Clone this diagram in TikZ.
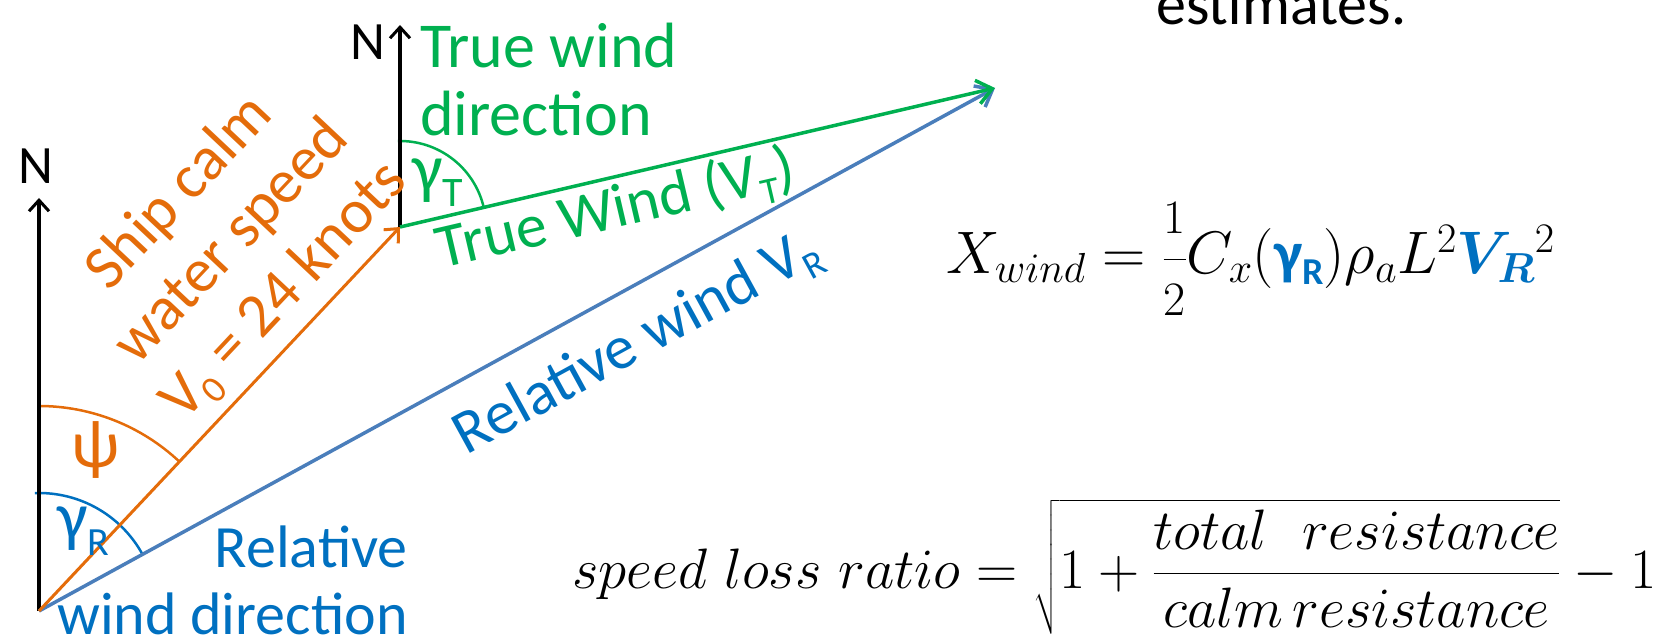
\RequirePackage{fix-cm}
\documentclass[tikz,border=0pt]{standalone}
\usepackage{amsmath}
\usepackage{bm}
\usepackage{fontspec}
\newfontfamily\carl{Carlito}
\usetikzlibrary{arrows.meta}
\definecolor{orng}{HTML}{E46C0A}
\definecolor{grn}{HTML}{00B050}
\definecolor{bline}{HTML}{4A7EBB}
\definecolor{btext}{HTML}{0070C0}
\newcommand{\lsub}[3][38]{\raisebox{-#2pt}{\fontsize{#1}{#1}\selectfont #3}}
\newcommand{\halfdigit}[1]{\mbox{\fontsize{48}{48}\selectfont #1}}
\begin{document}
\begin{tikzpicture}[x=1pt,y=1pt,
  lbl/.style={inner sep=0pt, font=\carl\fontsize{60}{72}\selectfont},
  veclbl/.style={inner sep=0pt, font=\carl\fontsize{62}{72}\selectfont},
  biglbl/.style={inner sep=0pt, font=\carl\fontsize{64}{72}\selectfont},
  greek/.style={inner sep=0pt, font=\carl\fontsize{68}{72}\selectfont},
  small/.style={inner sep=0pt, font=\carl\fontsize{54}{60}\selectfont},
  north/.style={black, line width=3.5pt, -{Straight Barb[length=11pt,width=20pt,line width=3pt]}},
  shipvec/.style={orng, line width=3pt, -{Straight Barb[length=11pt,width=20pt,line width=3pt]}},
  windvec/.style={line width=3.5pt, -{Straight Barb[length=15pt,width=24pt,line width=3.5pt]}},
  anglearc/.style={line width=2.5pt},
  eq/.style={inner sep=0pt, anchor=base west}]
\useasboundingbox (0,0) rectangle (1654,-644);
\clip (0,0) rectangle (1654,-644);
% key points
\coordinate (O) at (39,-611);
\coordinate (NL) at (39,-198);
\coordinate (P) at (400,-227);
\coordinate (NT) at (400,-25);
\coordinate (W) at (995,-88);
% angle arcs
\draw[anglearc, orng] ([shift={(90:205)}]O) arc[start angle=90, end angle=46.77, radius=205];
\draw[anglearc, btext] ([shift={(92:118)}]O) arc[start angle=92, end angle=28.68, radius=118];
\draw[anglearc, grn] ([shift={(91.5:86)}]P) arc[start angle=91.5, end angle=13.15, radius=86];
% vectors
\draw[north] (O) -- (NL);
\draw[north] (P) -- (NT);
\draw[windvec, bline] (O) -- (W);
\draw[shipvec] (O) -- (P);
\draw[windvec, grn] (P) -- (W);
% north labels
\node[small, anchor=center] (nl) at (36,-166) {N};
\node[small, anchor=center] (nt) at (368,-42) {N};
% true wind direction
\node[biglbl, grn, anchor=base west] (tw1) at (420,-68) {True wind};
\node[biglbl, grn, anchor=base west] (tw2) at (420,-136) {direction};
% relative wind direction
\node[lbl, btext, anchor=base east] (rw1) at (408,-567) {Relative};
\node[lbl, btext, anchor=base east] (rw2) at (408,-634) {wind direction};
% ship speed
\node[veclbl, orng, align=center, rotate=46.77, anchor=center] (ship) at (233,-243)
  {Ship calm\\water speed\\V\lsub{12}{0} = 24 knots};
% vector labels
\node[veclbl, grn, rotate=13.15, anchor=center] (tv) at (616,-211) {True Wind (V\lsub{12}{T})};
\node[veclbl, btext, rotate=28.68, anchor=center] (rv) at (638,-344) {Relative wind V\lsub{12}{R}};
% angle labels
\node[greek, orng, anchor=center] (psi) at (96,-450) {ψ};
\node[greek, btext, anchor=base west] (gr) at (57,-539) {γ\lsub[40]{16}{R}};
\node[greek, grn, anchor=base west] (gt) at (412,-192) {γ\lsub[42]{15}{T}};
% top text
\node[lbl, black, anchor=base west] (est) at (1156,-25) {estimates.};
% formulas
\node[eq] (xw) at (946,-274) {\fontsize{60}{66}\selectfont
  $X_{wind}=\genfrac{}{}{}{0}{\halfdigit{1}}{\halfdigit{2}}C_x(\textcolor{btext}{\mbox{\carl\bfseries γ\lsub{10}{R}}})\rho_a L^2\textcolor{btext}{\bm{V}_{\bm{R}}}{}^2$};
\node[eq] (sl) at (572,-588) {\fontsize{57}{62}\selectfont
  $speed\ loss\ ratio=\sqrt{1+\dfrac{total\ \ resistance}{calm\,resistance}}-1$};
\end{tikzpicture}
\end{document}
